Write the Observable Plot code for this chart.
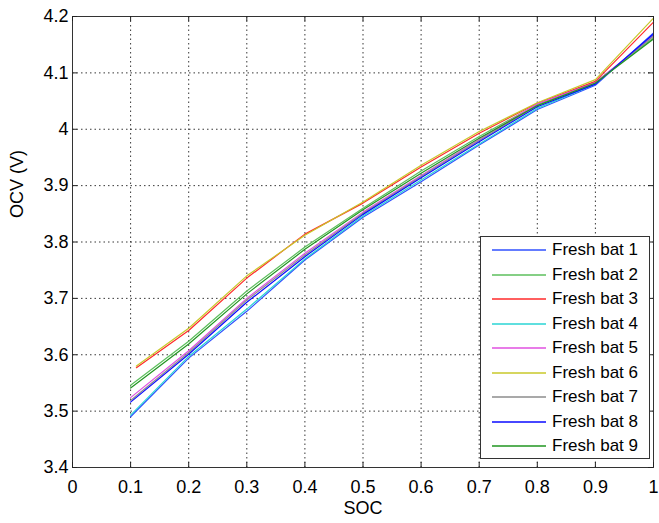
<!DOCTYPE html>
<html>
<head>
<meta charset="utf-8">
<script src="https://cdn.jsdelivr.net/npm/d3@7"></script>
<script src="https://cdn.jsdelivr.net/npm/@observablehq/plot@0.6"></script>
<style>
  body { margin: 0; background: #fff; font-family: "Liberation Sans", Arial, Helvetica, sans-serif; }
  #chart { position: relative; width: 659px; height: 523px; }
  .legend { position: absolute; left: 480px; top: 236px; width: 170px; height: 223px;
            border: 1px solid #333; background: #fff; box-sizing: border-box; }
  .legend .row { position: absolute; left: 0; height: 20px; display: flex; align-items: center; }
  .legend svg { margin-left: 11px; display: block; }
  .legend .label { margin-left: 6px; font-size: 17px; color: #000; white-space: nowrap; }
</style>
</head>
<body>
<div id="chart"></div>
<script>
// State of charge sample points (bat 3 and bat 6 start slightly later)
const soc = [0.1, 0.2, 0.3, 0.4, 0.5, 0.6, 0.7, 0.8, 0.9, 1.0];
const socLate = [0.11, 0.2, 0.3, 0.4, 0.5, 0.6, 0.7, 0.8, 0.9, 1.0];

// Open-circuit voltage (V) of each fresh battery
const bat1 = [3.490, 3.594, 3.677, 3.768, 3.844, 3.907, 3.972, 4.035, 4.078, 4.171];
const bat2 = [3.546, 3.624, 3.713, 3.791, 3.860, 3.926, 3.987, 4.044, 4.084, 4.162];
const bat3 = [3.577, 3.643, 3.736, 3.814, 3.869, 3.933, 3.993, 4.046, 4.085, 4.190];
const bat4 = [3.493, 3.597, 3.681, 3.770, 3.846, 3.910, 3.974, 4.037, 4.080, 4.167];
const bat5 = [3.524, 3.607, 3.700, 3.780, 3.853, 3.918, 3.982, 4.045, 4.083, 4.166];
const bat6 = [3.580, 3.647, 3.740, 3.812, 3.871, 3.936, 3.996, 4.047, 4.088, 4.197];
const bat7 = [3.519, 3.604, 3.697, 3.777, 3.851, 3.916, 3.980, 4.042, 4.081, 4.165];
const bat8 = [3.516, 3.601, 3.693, 3.774, 3.849, 3.914, 3.978, 4.040, 4.080, 4.169];
const bat9 = [3.541, 3.619, 3.708, 3.787, 3.857, 3.922, 3.984, 4.042, 4.082, 4.160];

const names = ["Fresh bat 1", "Fresh bat 2", "Fresh bat 3", "Fresh bat 4", "Fresh bat 5",
               "Fresh bat 6", "Fresh bat 7", "Fresh bat 8", "Fresh bat 9"];
const colors = ["#3050ff", "#5cbf5c", "#ff2a2a", "#2ad4d4", "#e050e0",
                "#c8c82a", "#8c8c8c", "#0a0aff", "#219621"];

const xTicks = [0, 0.1, 0.2, 0.3, 0.4, 0.5, 0.6, 0.7, 0.8, 0.9, 1];
const yTicks = [3.4, 3.5, 3.6, 3.7, 3.8, 3.9, 4, 4.1, 4.2];

// Long-form table for the line mark
const series = [bat1, bat2, bat3, bat4, bat5, bat6, bat7, bat8, bat9];
const socFor = [soc, soc, socLate, soc, soc, socLate, soc, soc, soc];
const rows = series.flatMap((vals, i) =>
  vals.map((v, j) => ({bat: names[i], soc: socFor[i][j], ocv: v})));

const W = 659, H = 523;
const mL = 72, mR = 6, mT = 16, mB = 56;
const fw = W - mL - mR, fh = H - mT - mB;
const tick = 5;
const ink = "#222";
const font = '"Liberation Sans", Arial, Helvetica, sans-serif';

const chart = Plot.plot({
  width: W, height: H,
  marginLeft: mL, marginRight: mR, marginTop: mT, marginBottom: mB,
  style: {fontFamily: font, fontSize: "18px", color: "#000", background: "#fff"},
  x: {domain: [0, 1]},
  y: {domain: [3.4, 4.2]},
  color: {domain: names, range: colors},
  marks: [
    Plot.gridX(xTicks.slice(1, -1), {stroke: "#222", strokeOpacity: 0.9, strokeDasharray: "1.5,3"}),
    Plot.gridY(yTicks.slice(1, -1), {stroke: "#222", strokeOpacity: 0.9, strokeDasharray: "1.5,3"}),
    Plot.line(rows, {x: "soc", y: "ocv", z: "bat", stroke: "bat", strokeWidth: 1.2}),
    Plot.frame({stroke: "#333", strokeWidth: 1}),
    // inward ticks on all four sides
    Plot.tickX(xTicks, {x: d => d, insetTop: fh - tick, stroke: ink}),
    Plot.tickX(xTicks, {x: d => d, insetBottom: fh - tick, stroke: ink}),
    Plot.tickY(yTicks, {y: d => d, insetRight: fw - tick, stroke: ink}),
    Plot.tickY(yTicks, {y: d => d, insetLeft: fw - tick, stroke: ink}),
    Plot.axisX(xTicks, {tickSize: 0, tickPadding: 13, label: null, tickFormat: d => String(d)}),
    Plot.axisY(yTicks, {tickSize: 0, tickPadding: 4, label: null, tickFormat: d => String(d)}),
    Plot.text(["SOC"], {frameAnchor: "bottom", dy: 46, text: d => d, fontSize: 18, fill: "#000"}),
    Plot.text(["OCV (V)"], {frameAnchor: "left", dx: -55, dy: -24, rotate: -90, text: d => d, fontSize: 18, fill: "#000"})
  ]
});

const host = document.getElementById("chart");
host.appendChild(chart);

// Legend box inside the plot area
const svgNS = "http://www.w3.org/2000/svg";
const legend = document.createElement("div");
legend.className = "legend";
names.forEach((name, i) => {
  const row = document.createElement("div");
  row.className = "row";
  row.style.top = Math.round(3 + i * 24.5) + "px";
  const sw = document.createElementNS(svgNS, "svg");
  sw.setAttribute("width", 54);
  sw.setAttribute("height", 4);
  const ln = document.createElementNS(svgNS, "line");
  ln.setAttribute("x1", 0); ln.setAttribute("x2", 54);
  ln.setAttribute("y1", 2); ln.setAttribute("y2", 2);
  ln.setAttribute("stroke", colors[i]);
  ln.setAttribute("stroke-width", 1.4);
  sw.appendChild(ln);
  const lab = document.createElement("span");
  lab.className = "label";
  lab.textContent = name;
  row.appendChild(sw);
  row.appendChild(lab);
  legend.appendChild(row);
});
host.appendChild(legend);
</script>
</body>
</html>
